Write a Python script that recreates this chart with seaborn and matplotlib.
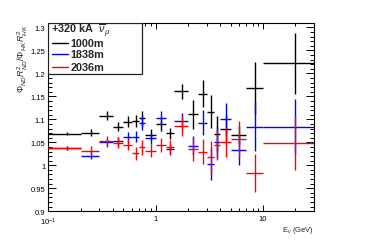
import numpy as np
import pandas as pd
import seaborn as sns
import matplotlib
matplotlib.use('Agg')
import matplotlib.pyplot as plt
import matplotlib.ticker as mticker
from matplotlib.patches import Rectangle

# Energy bin edges (GeV), shared by the three baselines
edges = [0.1, 0.2, 0.3, 0.4, 0.5, 0.6, 0.7, 0.8, 1.0, 1.25, 1.5, 2.0, 2.5,
         3.0, 3.5, 4.0, 5.0, 7.0, 10.0, 30.0]

# ratio values per bin
r_1000 = [1.069, 1.071, 1.108, 1.084, 1.095, 1.096, 1.102, 1.066, 1.090, 1.070,
          1.161, 1.111, 1.156, 1.117, 1.068, 1.080, 1.066, 1.168, 1.222]
e_1000 = [0.004, 0.008, 0.010, 0.010, 0.012, 0.013, 0.016, 0.012, 0.015, 0.012,
          0.016, 0.031, 0.029, 0.035, 0.040, 0.030, 0.020, 0.056, 0.066]

r_1838 = [1.037, 1.021, 1.050, 1.052, 1.061, 1.062, 1.092, 1.059, 1.103, 1.035,
          1.097, 1.043, 1.093, 1.003, 1.050, 1.101, 1.033, 1.084, 1.084]
e_1838 = [0.004, 0.008, 0.008, 0.010, 0.012, 0.012, 0.015, 0.012, 0.016, 0.012,
          0.016, 0.020, 0.028, 0.035, 0.035, 0.035, 0.032, 0.053, 0.060]

r_2036 = [1.038, 1.032, 1.052, 1.049, 1.045, 1.026, 1.039, 1.032, 1.044, 1.040,
          1.086, 1.035, 1.030, 1.017, 1.045, 1.050, 1.057, 0.983, 1.048]
e_2036 = [0.005, 0.009, 0.012, 0.012, 0.012, 0.014, 0.016, 0.014, 0.015, 0.015,
          0.022, 0.025, 0.027, 0.035, 0.033, 0.032, 0.040, 0.041, 0.059]

series = ['1000m', '1838m', '2036m']
colors = {'1000m': 'black', '1838m': '#0000ff', '2036m': '#ff0000'}

lo = np.array(edges[:-1])
hi = np.array(edges[1:])
rows = []
for name, r, e in zip(series, [r_1000, r_1838, r_2036], [e_1000, e_1838, e_2036]):
    for a, b, v, s in zip(lo, hi, r, e):
        rows.append(dict(baseline=name, lo=a, hi=b, E=(a + b) / 2, ratio=v, err=s))
df = pd.DataFrame(rows)

sns.set_theme(style='ticks')
plt.rcParams['font.family'] = ['Liberation Sans', 'DejaVu Sans']
plt.rcParams['mathtext.fontset'] = 'custom'
plt.rcParams['mathtext.rm'] = 'Liberation Sans'
plt.rcParams['mathtext.it'] = 'Liberation Sans:italic'

fig = plt.figure(figsize=(3.74, 2.53), dpi=100)
ax = fig.add_axes([0.129, 0.161, 0.711, 0.743])

for name in series:
    d = df[df.baseline == name]
    ax.errorbar(d.E, d.ratio, xerr=[d.E - d.lo, d.hi - d.E], yerr=d.err,
                fmt='none', ecolor=colors[name], elinewidth=1.0, capsize=0)

ax.set_xscale('log')
ax.set_xlim(0.1, 30)
ax.set_ylim(0.9, 1.309)

ax.xaxis.set_major_locator(mticker.FixedLocator([0.1, 1, 10]))
ax.xaxis.set_major_formatter(mticker.FixedFormatter(['10$^{-1}$', '1', '10']))
ax.xaxis.set_minor_locator(mticker.LogLocator(base=10, subs=np.arange(2, 10)))
ax.xaxis.set_minor_formatter(mticker.NullFormatter())
ax.yaxis.set_major_locator(mticker.MultipleLocator(0.05))
ax.yaxis.set_major_formatter(mticker.FuncFormatter(lambda v, p: f'{v:g}'))
ax.yaxis.set_minor_locator(mticker.MultipleLocator(0.01))

ax.tick_params(axis='both', which='both', direction='in', top=True, right=True,
               labelsize=5.5, colors='black', width=0.7, pad=2)
ax.tick_params(axis='x', which='both', pad=3)
ax.tick_params(axis='y', which='major', length=5.8)
ax.tick_params(axis='y', which='minor', length=2.9)
ax.tick_params(axis='x', which='major', length=4.0)
ax.tick_params(axis='x', which='minor', length=2.0)
for sp in ax.spines.values():
    sp.set_linewidth(0.8)
    sp.set_color('black')

ax.set_xlabel(r'E$_{\nu}$ (GeV)', fontsize=5.5, ha='right')
ax.xaxis.set_label_coords(1.0, -0.07)
ax.set_ylabel(r'$\Phi_{ND}R^{2}_{ND}/\Phi_{HK}R^{2}_{HK}$', fontsize=6.5, ha='right')
ax.yaxis.set_label_coords(-0.068, 1.0)

# ROOT style legend box, drawn in axes coordinates
ax.add_patch(Rectangle((0.0, 0.73), 0.352, 0.27, transform=ax.transAxes,
                       facecolor='white', edgecolor='#222222', lw=0.9, zorder=5))
ax.text(0.012, 0.963, r'+320 kA  $\overline{\nu}_{\mu}$', transform=ax.transAxes,
        fontsize=7.8, fontweight='bold', va='center', ha='left', zorder=6)
for yy, name in zip([0.897, 0.835, 0.768], series):
    ax.plot([0.013, 0.075], [yy, yy], transform=ax.transAxes, color=colors[name],
            lw=1.0, zorder=6, clip_on=False)
    ax.text(0.083, yy, name, transform=ax.transAxes, fontsize=7.8,
            fontweight='bold', va='center', ha='left', zorder=6)

fig.savefig('out.png', dpi=100)
